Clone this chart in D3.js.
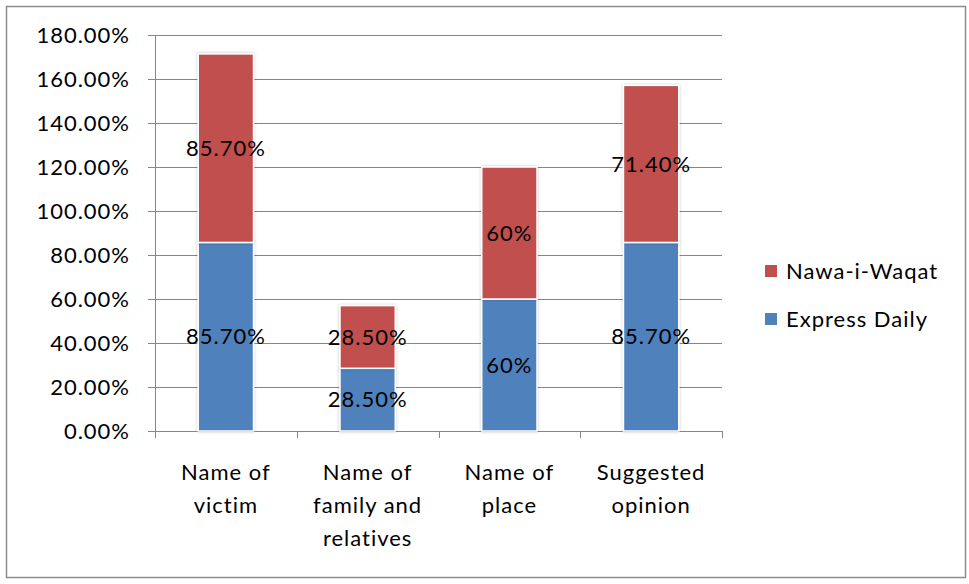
<!DOCTYPE html>
<html><head><meta charset="utf-8">
<script src="https://cdn.jsdelivr.net/npm/d3@7"></script>
<style>body{margin:0;background:#fff;} text{font-family:Lato,"Open Sans",sans-serif;letter-spacing:1px;}</style>
</head><body><svg id="c" width="969" height="584"></svg>
<script>
const categories = [["Name of","victim"],["Name of","family and","relatives"],["Name of","place"],["Suggested","opinion"]];
const expressDaily = [85.7, 28.5, 60, 85.7];
const nawaWaqat = [85.7, 28.5, 60, 71.4];
const expressLabels = ["85.70%","28.50%","60%","85.70%"];
const nawaLabels = ["85.70%","28.50%","60%","71.40%"];
const yTicks = [0,20,40,60,80,100,120,140,160,180];
const seriesNames = ["Nawa-i-Waqat","Express Daily"];
const colors = {"Express Daily":"#4F81BD","Nawa-i-Waqat":"#C0504D"};

const FS = 22;
const svg = d3.select("#c");
svg.append("rect").attr("x",6.5).attr("y",6.5).attr("width",959).attr("height",571)
  .attr("fill","#fff").attr("stroke","#8c8c8c").attr("stroke-width",1.5);

const L=155, R=722, T=35, B=431;
const y = d3.scaleLinear().domain([0,180]).range([B,T]);
const x = d3.scaleBand().domain(d3.range(categories.length)).range([L,R]).paddingInner(0.61).paddingOuter(0.305);

svg.append("g").selectAll("line").data(yTicks).join("line")
  .attr("x1",L-7).attr("x2",R).attr("y1",d=>Math.round(y(d))+0.5).attr("y2",d=>Math.round(y(d))+0.5)
  .attr("stroke","#868686").attr("stroke-width",1);
svg.append("line").attr("x1",L+0.5).attr("x2",L+0.5).attr("y1",T).attr("y2",B).attr("stroke","#868686");
svg.append("g").selectAll("text").data(yTicks).join("text")
  .attr("x",L-25).attr("y",d=>y(d)).attr("dy","0.35em").attr("text-anchor","end")
  .attr("font-size",FS).attr("fill","#000").text(d=>d.toFixed(2)+"%");
const bw = (R-L)/categories.length;
svg.append("g").selectAll("line").data(d3.range(categories.length+1)).join("line")
  .attr("x1",i=>Math.round(L+i*bw)+0.5).attr("x2",i=>Math.round(L+i*bw)+0.5)
  .attr("y1",B).attr("y2",B+7).attr("stroke","#868686");

const stack = categories.map((c,i)=>[
  {s:"Express Daily",y0:0,y1:expressDaily[i],lab:expressLabels[i],i},
  {s:"Nawa-i-Waqat",y0:expressDaily[i],y1:expressDaily[i]+nawaWaqat[i],lab:nawaLabels[i],i}
]).flat();
const defs = svg.append("defs");
const f = defs.append("filter").attr("id","sh").attr("x","-20%").attr("y","-20%").attr("width","140%").attr("height","140%");
f.append("feDropShadow").attr("dx",0).attr("dy",0).attr("stdDeviation",1.5).attr("flood-color","#000").attr("flood-opacity",0.25);
svg.append("g").selectAll("rect").data(stack).join("rect")
  .attr("x",d=>x(d.i)).attr("width",x.bandwidth())
  .attr("y",d=>y(d.y1)).attr("height",d=>y(d.y0)-y(d.y1))
  .attr("fill",d=>colors[d.s]).attr("stroke","#fff").attr("stroke-width",1.5).attr("filter","url(#sh)");
svg.append("g").selectAll("text").data(stack).join("text")
  .attr("x",d=>x(d.i)+x.bandwidth()/2).attr("y",d=>y((d.y0+d.y1)/2)).attr("dy","0.35em")
  .attr("text-anchor","middle").attr("font-size",FS).attr("fill","#000").text(d=>d.lab);

svg.append("g").selectAll("text").data(categories).join("text")
  .attr("text-anchor","middle").attr("font-size",FS).attr("fill","#000")
  .attr("transform",(d,i)=>`translate(${x(i)+x.bandwidth()/2},472)`)
  .each(function(d){
    d3.select(this).selectAll("tspan").data(d).join("tspan")
      .attr("x",0).attr("y",(t,j)=>j*33).attr("dy","0.35em").text(t=>t);
  });

const lg = svg.append("g").selectAll("g").data(seriesNames).join("g")
  .attr("transform",(d,i)=>`translate(765,${271+i*48})`);
lg.append("rect").attr("x",0).attr("y",-6).attr("width",12).attr("height",12).attr("fill",d=>colors[d]);
lg.append("text").attr("x",21).attr("y",0).attr("dy","0.35em").attr("font-size",FS).attr("fill","#000").text(d=>d);
</script></body></html>
